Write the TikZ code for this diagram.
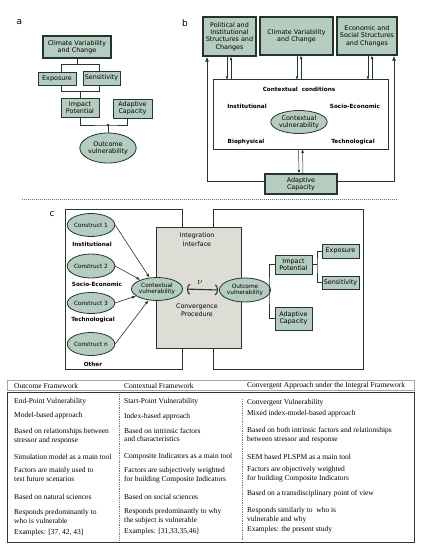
\documentclass[tikz,border=0pt]{standalone}
\usepackage{fontspec}
\setmainfont{Liberation Serif}
\newfontfamily\dv{DejaVu Sans}
\usetikzlibrary{arrows.meta,shapes.geometric}
\definecolor{sage}{RGB}{181,204,193}
\definecolor{dk}{RGB}{38,52,46}
\definecolor{panelgray}{RGB}{221,221,213}
\tikzset{
  gbox/.style={draw=dk, fill=sage, line width=0.9pt, align=center, inner sep=0pt,
    font=\dv\fontsize{6.4}{7.3}\selectfont},
  tbox/.style={gbox, line width=1.4pt},
  gell/.style={ellipse, draw=dk, fill=sage, line width=0.8pt, align=center, inner sep=0pt,
    font=\dv\fontsize{6.4}{7.3}\selectfont},
  blab/.style={font=\dv\bfseries\fontsize{5.7}{6.5}\selectfont, inner sep=0pt},
  plab/.style={font=\dv\fontsize{9}{10}\selectfont, inner sep=0pt},
  frame/.style={draw=dk, line width=0.8pt, inner sep=0pt},
  conn/.style={draw=dk, line width=0.8pt},
  sarr/.style={draw=dk, line width=0.5pt, -{Latex[length=3.4pt,width=2.8pt]}},
  barr/.style={draw=dk, line width=0.8pt, -{Latex[length=5pt,width=4pt]}},
  tcell/.style={font=\fontsize{7.5}{8.7}\selectfont, align=left, anchor=west, inner sep=0pt},
}
\begin{document}
\begin{tikzpicture}[x=1pt,y=-1pt]
\useasboundingbox (0,0) rectangle (422,550);

% ---------------- panel a
\node[plab] (la) at (19.5,22.5) {a};
\node[tbox, minimum width=68pt, minimum height=22pt] (acvc) at (77,47) {Climate Variability\\and Change};
\node[gbox, minimum width=38pt, minimum height=13pt] (aexp) at (57,78.5) {Exposure};
\node[gbox, minimum width=37pt, minimum height=14pt] (asen) at (101.5,78) {Sensitivity};
\node[gbox, minimum width=38pt, minimum height=19pt] (aimp) at (80,107.5) {Impact\\Potential};
\node[gbox, minimum width=39pt, minimum height=19pt] (aada) at (132.5,108.5) {Adaptive\\Capacity};
\node[gell, minimum width=52pt, minimum height=30pt] (aout) at (108,148) {Outcome\\vulnerability};
\draw[conn] ([xshift=4pt]aexp.north) |- ([yshift=-6pt]acvc.south) -| ([xshift=-2.5pt]asen.north);
\draw[conn] (acvc.south) -- ++(0,6);
\draw[conn] ([xshift=4pt]aexp.south) -- ++(0,6) -| ([xshift=-2.5pt]asen.south);
\draw[conn] (aimp.north) -- ++(0,-7);
\coordinate (aj) at (108,125);
\draw[conn] (aimp.south) |- (aj) -| ([xshift=-5.5pt]aada.south);
\draw[conn] (aj) -- (aout.north);
\fill[dk] (aj) circle (1.3);

% ---------------- panel b
\node[plab] (lb) at (185,23) {b};
\node[tbox, minimum width=53pt, minimum height=39pt] (bpol) at (229.5,36.5) {Political and\\Institutional\\Structures and\\Changes};
\node[tbox, minimum width=73pt, minimum height=38pt] (bcli) at (296.5,36) {Climate Variability\\and Change};
\node[tbox, minimum width=60pt, minimum height=38pt] (beco) at (367,36) {Economic and\\Social Structures\\and Changes};
\node[frame, minimum width=175pt, minimum height=70pt] (bctx) at (300.5,114) {};
\node[blab] (bcc) at (299,89) {Contextual\ \ conditions};
\node[blab] (binst) at (247,106) {Institutional};
\node[blab] (bsoc) at (355,106) {Socio-Economic};
\node[blab] (bbio) at (246,142) {Biophysical};
\node[blab] (btec) at (353,142) {Technological};
\node[gell, minimum width=50pt, minimum height=23pt] (bcv) at (299,122) {Contextual\\vulnerability};
\node[tbox, minimum width=72pt, minimum height=20pt] (bada) at (301,184) {Adaptive\\Capacity};
\draw[sarr] ([xshift=-2.5pt]bpol.south) -- ++(0,23);
\draw[sarr] ([xshift=1.5pt,yshift=-23pt]bpol.south) -- ([xshift=1.5pt]bpol.south);
\draw[sarr] ([xshift=0.5pt]bcli.south) -- ++(0,24);
\draw[sarr] ([xshift=4.5pt,yshift=-24pt]bcli.south) -- ([xshift=4.5pt]bcli.south);
\draw[sarr] ([xshift=1pt]beco.south) -- ++(0,24);
\draw[sarr] ([xshift=5pt,yshift=-24pt]beco.south) -- ([xshift=5pt]beco.south);
\draw[sarr] ([xshift=-2pt]bctx.south) -- ([xshift=-2pt]bada.north);
\draw[sarr] ([xshift=2pt]bada.north) -- ([xshift=2pt]bctx.south);
\draw[barr] ([yshift=3pt]bada.west) -| ([xshift=-22.5pt]bpol.south);
\draw[barr] ([yshift=3pt]bada.east) -| ([xshift=27pt]beco.south);

% separator
\coordinate (sepl) at (22,199);
\coordinate (sepr) at (398,199);
\draw[gray!80!dk, line width=0.7pt, dash pattern=on 0.9pt off 1.1pt] (sepl) -- (sepr);

% ---------------- panel c
\node[plab] (lc) at (52,214) {c};
\node[frame, minimum width=117pt, minimum height=160pt] (cleft) at (123.5,289) {};
\node[frame, minimum width=150pt, minimum height=160pt] (cright) at (288,289) {};
\node[frame, fill=panelgray, minimum width=85pt, minimum height=121pt] (cint) at (198.5,287.5) {};
\node[align=center, inner sep=0pt, font=\dv\fontsize{6.3}{8.6}\selectfont] (cii) at (197,239.5) {Integration\\Interface};
\node[align=center, inner sep=0pt, font=\dv\fontsize{6.3}{8.6}\selectfont] (ccp) at (197,310) {Convergence\\Procedure};
\tikzset{cell/.style={gell, minimum width=42pt, minimum height=23pt, font=\dv\fontsize{5.8}{6.7}\selectfont}}
\node[cell] (c1) at (91,225) {Construct 1};
\node[cell, minimum height=24pt] (c2) at (91,266) {Construct 2};
\node[cell, minimum height=21pt] (c3) at (91,303) {Construct 3};
\node[cell] (cn) at (91,344) {Construct n};
\node[blab] (cinst) at (92,244) {Institutional};
\node[blab] (csoc) at (97,284) {Socio-Economic};
\node[blab] (ctec) at (93,320) {Technological};
\node[blab] (coth) at (93,364) {Other};
\node[cell] (ccv) at (157,289) {Contextual\\vulnerability};
\node[cell, minimum width=44pt, minimum height=24pt] (cout) at (245,290) {Outcome\\vulnerability};
\tikzset{carr/.style={draw=dk, line width=0.6pt, -{Latex[length=4pt,width=3pt]}}}
\draw[carr] (c1.east) -- (ccv);
\draw[carr] (c2.east) -- (ccv);
\draw[carr] (c3.east) -- (ccv);
\draw[carr] (cn.east) -- (ccv);
\draw[draw=dk, line width=1.1pt, {Arc Barb[length=3pt,width=11pt]}-{Arc Barb[length=3pt,width=11pt]}, shorten <=4pt, shorten >=1pt] (ccv.east) -- (cout.west);
\node[font=\fontsize{9}{10}\selectfont, inner sep=0pt] (cnu) at (200,283) {$\nu$};
\node[gbox, minimum width=37pt, minimum height=19pt] (cimp) at (293.5,264.5) {Impact\\Potential};
\node[gbox, minimum width=37pt, minimum height=23pt] (cada) at (293.5,318.5) {Adaptive\\Capacity};
\node[gbox, minimum width=37pt, minimum height=14pt] (cexp) at (340.5,251) {Exposure};
\node[gbox, minimum width=37pt, minimum height=13pt] (csen) at (340.5,282.5) {Sensitivity};
\coordinate (cj1) at (269,290);
\coordinate (cj2) at (317,264.5);
\draw[conn] (cout.east) -- (cj1);
\draw[conn] (cimp.west) -| (cj1) |- (cada.west);
\draw[conn] (cimp.east) -- (cj2);
\draw[conn] (cexp.west) -| (cj2) |- (csen.west);

% ---------------- table
\node[draw=gray!70, line width=0.5pt, minimum width=407pt, minimum height=10pt, inner sep=0pt] (thead) at (210.5,385) {};
\node[draw=black!80, line width=0.9pt, minimum width=407pt, minimum height=150pt, inner sep=0pt] (tbody) at (210.5,467) {};
\coordinate (d1t) at (119,394);
\coordinate (d1b) at (119,540);
\coordinate (d2t) at (242,399);
\coordinate (d2b) at (242,540);
\draw[gray, line width=0.4pt, dash pattern=on 0.8pt off 1pt] (d1t) -- (d1b);
\draw[gray, line width=0.4pt, dash pattern=on 0.8pt off 1pt] (d2t) -- (d2b);

\node[tcell] (h1) at (14,386) {Outcome Framework};
\node[tcell] (h2) at (124,386) {Contextual Framework};
\node[tcell] (h3) at (247,386) {Convergent Approach under the Integral Framework};

\node[tcell] (a1) at (14,402) {End-Point Vulnerability};
\node[tcell] (a2) at (14,416) {Model-based approach};
\node[tcell] (a3) at (14,436.5) {Based on relationships between\\stressor and response};
\node[tcell] (a4) at (14,457) {Simulation model as a main tool};
\node[tcell] (a5) at (14,474.5) {Factors are mainly used to\\test future scenarios};
\node[tcell] (a6) at (14,497) {Based on natural sciences};
\node[tcell] (a7) at (14,516.5) {Responds predominantly to\\who is vulnerable};
\node[tcell] (a8) at (14,532.5) {Examples: [37, 42, 43]};

\node[tcell] (b1) at (124,402) {Start-Point Vulnerability};
\node[tcell] (b2) at (124,417) {Index-based approach};
\node[tcell] (b3) at (124,435) {Based on intrinsic factors\\and characteristics};
\node[tcell] (b4) at (124,457) {Composite Indicators as a main tool};
\node[tcell] (b5) at (124,475.5) {Factors are subjectively weighted\\for building Composite Indicators};
\node[tcell] (b6) at (124,497) {Based on social sciences};
\node[tcell] (b7) at (124,516.5) {Responds predominantly to why\\the subject is vulnerable};
\node[tcell] (b8) at (124,531.5) {Examples: [31,33,35,46]};

\node[tcell] (g1) at (247,403) {Convergent Vulnerability};
\node[tcell] (g2) at (247,414) {Mixed index-model-based approach};
\node[tcell] (g3) at (247,435) {Based on both intrinsic factors and relationships\\between stressor and response};
\node[tcell] (g4) at (247,457) {SEM based PLSPM as a main tool};
\node[tcell] (g5) at (247,474) {Factors are objectively weighted\\for building Composite Indicators};
\node[tcell] (g6) at (247,494) {Based on a transdisciplinary point of view};
\node[tcell] (g7) at (247,515.5) {Responds similarly to\ \ who is\\vulnerable and why};
\node[tcell] (g8) at (247,529.5) {Examples: the present study};
\end{tikzpicture}
\end{document}
